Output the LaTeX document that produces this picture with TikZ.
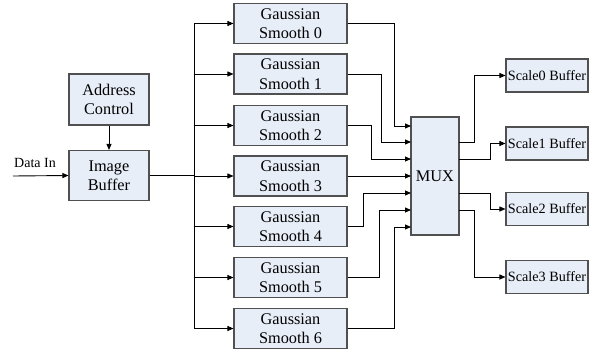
\documentclass[tikz,border=0pt]{standalone}
\usepackage{fontspec}
\setmainfont{Liberation Serif}
\usetikzlibrary{arrows.meta,calc}
\definecolor{boxfill}{RGB}{232,238,248}
\definecolor{boxline}{RGB}{80,80,80}
\tikzset{
  blk/.style={draw=boxline, fill=boxfill, line width=1.1pt, rectangle, inner sep=0pt,
    align=center, font=\fontsize{16.3}{19.5}\selectfont},
  gblk/.style={blk, minimum width=113pt, minimum height=40pt},
  sblk/.style={blk, minimum width=82pt, minimum height=33pt, font=\fontsize{14.2}{16}\selectfont},
  arr/.style={line width=0.9pt, -{Triangle[length=6pt,width=5pt]}},
  wire/.style={line width=0.9pt}
}
\begin{document}
\begin{tikzpicture}[x=1pt,y=-1pt]
\useasboundingbox (0,0) rectangle (606,351);

% memory side
\node[blk, minimum width=80pt, minimum height=51pt] (ac) at (109,99.5) {Address\\Control};
\node[blk, minimum width=80pt, minimum height=50pt] (ib) at (109,175.5) {Image\\Buffer};

% smoothing filters
\node[gblk] (g0) at (290.5,23.5)  {Gaussian\\Smooth 0};
\node[gblk] (g1) at (290.5,74)    {Gaussian\\Smooth 1};
\node[gblk] (g2) at (290.5,125.5) {Gaussian\\Smooth 2};
\node[gblk] (g3) at (290.5,176)   {Gaussian\\Smooth 3};
\node[gblk] (g4) at (290.5,226.5) {Gaussian\\Smooth 4};
\node[gblk] (g5) at (290.5,277.5) {Gaussian\\Smooth 5};
\node[gblk] (g6) at (290.5,328.5) {Gaussian\\Smooth 6};

% multiplexer
\node[blk, minimum width=48pt, minimum height=118pt] (mux) at (435,176) {MUX};

% scale buffers
\node[sblk] (s0) at (547,75.5)  {Scale0 Buffer};
\node[sblk] (s1) at (547,143.5) {Scale1 Buffer};
\node[sblk] (s2) at (547,209)   {Scale2 Buffer};
\node[sblk] (s3) at (547,277)   {Scale3 Buffer};

% input
\coordinate (din) at (13,176);
\node[font=\fontsize{14}{16}\selectfont, inner sep=0pt] (dlab) at (35,163) {Data In};
\draw[arr] (din) -- (ib.west);
\draw[arr] (ac.south) -- (ib.north);

% distribution bus
\coordinate (bus) at (194,0);
\draw[wire] (ib.east) -- (bus |- ib.east);
\draw[wire] (bus |- g0.west) -- (bus |- g6.west);
\foreach \g in {g0,g1,g2,g3,g4,g5,g6}
  \draw[arr] (bus |- \g.west) -- (\g.west);

% MUX input ports
\coordinate (in0) at (411,126);
\coordinate (in1) at (411,142);
\coordinate (in2) at (411,159);
\coordinate (in3) at (411,176);
\coordinate (in4) at (411,193);
\coordinate (in5) at (411,210);
\coordinate (in6) at (411,227);

\draw[arr] (g0.east) -| ([xshift=-17pt]in0) -- (in0);
\draw[arr] (g1.east) -| ([xshift=-30pt]in1) -- (in1);
\draw[arr] (g2.east) -| ([xshift=-40pt]in2) -- (in2);
\draw[arr] (g3.east) -- (in3);
\draw[arr] (g4.east) -| ([xshift=-48pt]in4) -- (in4);
\draw[arr] (g5.east) -| ([xshift=-32pt]in5) -- (in5);
\draw[arr] (g6.east) -| ([xshift=-17pt]in6) -- (in6);

% MUX output ports
\coordinate (o0) at (459,142);
\coordinate (o1) at (459,159);
\coordinate (o2) at (459,193);
\coordinate (o3) at (459,210);

\draw[arr] (o0) -| ([xshift=-31pt]s0.west) -- (s0.west);
\draw[arr] (o1) -| ([xshift=-15pt]s1.west) -- (s1.west);
\draw[arr] (o2) -| ([xshift=-15pt]s2.west) -- (s2.west);
\draw[arr] (o3) -| ([xshift=-31pt]s3.west) -- (s3.west);
\end{tikzpicture}
\end{document}
